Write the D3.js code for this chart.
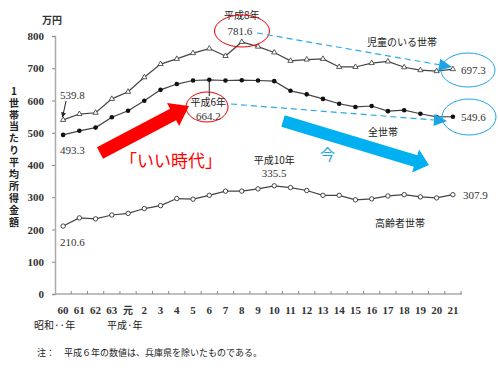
<!DOCTYPE html>
<html>
<head>
<meta charset="utf-8">
<script src="https://cdn.jsdelivr.net/npm/d3@7"></script>
<style>
  body { margin: 0; background: #fff; }
  svg { display: block; }
  .num { font-family: "Liberation Serif", "DejaVu Serif", serif; }
  .jp { font-family: "Noto Sans CJK JP", sans-serif; }
</style>
</head>
<body>
<svg id="chart" width="498" height="377"></svg>
<script>
var years = ["60","61","62","63","元","2","3","4","5","6","7","8","9","10","11","12","13","14","15","16","17","18","19","20","21"];
var children = [539.8,558,562,605,627,672,713,729,747,761,738,781.6,767,749,723,727,729,704,704,716,721,703,694,691,697.3];
var allHouse = [493.3,506,516,548,568,599,633,651,662,664.2,662,663,662,660,630,619,605,590,580,583,567,570,559,549,549.6];
var elderly = [210.6,236,233,245,250,265,274,296,294,306,319,319,326,335.5,330,321,306,306,292,295,304,308,301,298,307.9];
var yTicks = [0,100,200,300,400,500,600,700,800];

var svg = d3.select("#chart");
var x = d3.scaleBand().domain(years).range([55, 461]);
var y = d3.scaleLinear().domain([0, 800]).range([294, 36]);
var cx = function(i) { return x(years[i]) + x.bandwidth() / 2; };

// axes
var yAxis = d3.axisLeft(y).tickValues(yTicks).tickSize(3).tickPadding(8);
var gy = svg.append("g").attr("transform", "translate(55,0)").call(yAxis);
gy.select(".domain").attr("stroke", "#aaa").attr("stroke-width", 1.5);
gy.selectAll(".tick line").attr("stroke", "#888");
gy.selectAll("text").attr("class", "num").attr("font-size", 11).attr("font-weight", "bold").attr("fill", "#333");

svg.append("line").attr("x1", 55).attr("x2", 462).attr("y1", y(0)).attr("y2", y(0))
  .attr("stroke", "#aaa").attr("stroke-width", 1.5);
svg.append("g").selectAll("line").data(years).join("line")
  .attr("x1", function(d, i) { return x(years[i]) + x.bandwidth(); })
  .attr("x2", function(d, i) { return x(years[i]) + x.bandwidth(); })
  .attr("y1", y(0)).attr("y2", y(0) - 3)
  .attr("stroke", "#888");
svg.append("g").selectAll("text").data(years).join("text")
  .attr("class", function(d) { return d === "元" ? "jp" : "num"; })
  .attr("x", function(d, i) { return cx(i); })
  .attr("y", 314)
  .attr("text-anchor", "middle")
  .attr("font-size", function(d) { return d === "元" ? 10 : 11; })
  .attr("font-weight", "bold")
  .attr("fill", "#333")
  .text(function(d) { return d; });

svg.append("text").attr("class", "jp").attr("x", 34).attr("y", 329).attr("font-size", 10).attr("fill", "#222").text("昭和··年");
svg.append("text").attr("class", "jp").attr("x", 107).attr("y", 329).attr("font-size", 10).attr("fill", "#222").text("平成·年");
svg.append("text").attr("class", "jp").attr("x", 42).attr("y", 24).attr("font-size", 10).attr("font-weight", "bold").attr("fill", "#333").text("万円");
svg.append("text").attr("class", "jp").attr("x", 37).attr("y", 356).attr("font-size", 9).attr("fill", "#222")
  .text("注：　平成６年の数値は、兵庫県を除いたものである。");

// vertical y title
svg.append("text").attr("class", "jp")
  .attr("x", 14).attr("y", 86)
  .style("writing-mode", "vertical-rl").style("text-orientation", "upright")
  .attr("font-size", 10).attr("font-weight", "bold").attr("fill", "#222")
  .attr("letter-spacing", 1.9)
  .text("1世帯当たり平均所得金額");

// series
var line = d3.line().x(function(d, i) { return cx(i); }).y(function(d) { return y(d); });
[children, allHouse, elderly].forEach(function(s) {
  svg.append("path").attr("d", line(s)).attr("fill", "none").attr("stroke", "#444").attr("stroke-width", 1.2);
});
svg.append("g").selectAll("path").data(children).join("path")
  .attr("d", d3.symbol(d3.symbolTriangle, 12))
  .attr("transform", function(d, i) { return "translate(" + cx(i) + "," + y(d) + ")"; })
  .attr("fill", "#fff").attr("stroke", "#333").attr("stroke-width", 0.8);
svg.append("g").selectAll("circle").data(allHouse).join("circle")
  .attr("cx", function(d, i) { return cx(i); }).attr("cy", function(d) { return y(d); })
  .attr("r", 2.3).attr("fill", "#111");
svg.append("g").selectAll("circle").data(elderly).join("circle")
  .attr("cx", function(d, i) { return cx(i); }).attr("cy", function(d) { return y(d); })
  .attr("r", 2.2).attr("fill", "#fff").attr("stroke", "#333").attr("stroke-width", 0.9);

// labels
function numLabel(t, xx, yy, anchor) {
  svg.append("text").attr("class", "num").attr("x", xx).attr("y", yy).attr("font-size", 11)
    .attr("text-anchor", anchor || "start").attr("fill", "#333").text(t);
}
function jpLabel(t, xx, yy, anchor) {
  svg.append("text").attr("class", "jp").attr("x", xx).attr("y", yy).attr("font-size", 10)
    .attr("text-anchor", anchor || "start").attr("fill", "#222").text(t);
}
numLabel(children[0], 60, 99);
numLabel(allHouse[0], 60, 154);
numLabel(elderly[0], 60, 246);
numLabel(children[24], 461, 74);
numLabel(allHouse[24], 461, 121);
numLabel(elderly[24], 463, 199);
jpLabel("平成8年", cx(11), 19, "middle");
numLabel(children[11], cx(11) - 2, 35, "middle");
jpLabel("平成6年", cx(9) - 1, 106, "middle");
numLabel(allHouse[9], cx(9) - 1, 120, "middle");
jpLabel("平成10年", cx(13), 164, "middle");
numLabel(elderly[13], cx(13), 177, "middle");
jpLabel("児童のいる世帯", 402, 46, "middle");
jpLabel("全世帯", 383, 136, "middle");
jpLabel("高齢者世帯", 400, 227, "middle");

// small leaders
svg.append("defs").append("marker").attr("id", "blk").attr("viewBox", "0 0 10 10")
  .attr("refX", 9).attr("refY", 5).attr("markerWidth", 5).attr("markerHeight", 5).attr("orient", "auto")
  .append("path").attr("d", "M0,0L10,5L0,10z").attr("fill", "#222");
svg.append("line").attr("x1", 66).attr("y1", 101).attr("x2", cx(0) - 0.5).attr("y2", y(children[0]) - 3)
  .attr("stroke", "#222").attr("marker-end", "url(#blk)");
svg.append("line").attr("x1", cx(9)).attr("y1", y(allHouse[9])).attr("x2", cx(9)).attr("y2", 96).attr("stroke", "#222");

// red ellipses
svg.append("ellipse").attr("cx", 242).attr("cy", 31).attr("rx", 27.5).attr("ry", 16)
  .attr("fill", "none").attr("stroke", "#e00").attr("stroke-width", 1);
svg.append("ellipse").attr("cx", 207).attr("cy", 107).attr("rx", 21).attr("ry", 15)
  .attr("fill", "none").attr("stroke", "#e00").attr("stroke-width", 1);
// blue ellipses
svg.append("ellipse").attr("cx", 468).attr("cy", 70).attr("rx", 27).attr("ry", 17)
  .attr("fill", "none").attr("stroke", "#1ea7e6").attr("stroke-width", 1);
svg.append("ellipse").attr("cx", 469).attr("cy", 117).attr("rx", 27).attr("ry", 18)
  .attr("fill", "none").attr("stroke", "#1ea7e6").attr("stroke-width", 1);

// blue dashed trend arrows
function dashArrow(x1, y1, x2, y2) {
  var a = Math.atan2(y2 - y1, x2 - x1), L = 13, W = 6;
  var bx = x2 - L * Math.cos(a), by = y2 - L * Math.sin(a);
  svg.append("line").attr("x1", x1).attr("y1", y1).attr("x2", bx).attr("y2", by)
    .attr("stroke", "#2aa9e8").attr("stroke-width", 1.2).attr("stroke-dasharray", "6,4");
  svg.append("path").attr("fill", "#1aa5e6").attr("d",
    "M" + x2 + "," + y2 +
    "L" + (bx + W * Math.sin(a)) + "," + (by - W * Math.cos(a)) +
    "L" + (bx - W * Math.sin(a)) + "," + (by + W * Math.cos(a)) + "Z");
}
dashArrow(257, 33, 452, 67);
dashArrow(231, 104, 447, 121);

// fat block arrows
function blockArrow(x1, y1, x2, y2, shaft, head, headLen, color) {
  var a = Math.atan2(y2 - y1, x2 - x1), len = Math.hypot(x2 - x1, y2 - y1);
  var p = d3.path();
  p.moveTo(0, -shaft / 2); p.lineTo(len - headLen, -shaft / 2); p.lineTo(len - headLen, -head / 2);
  p.lineTo(len, 0); p.lineTo(len - headLen, head / 2); p.lineTo(len - headLen, shaft / 2);
  p.lineTo(0, shaft / 2); p.closePath();
  svg.append("path").attr("d", p.toString()).attr("fill", color)
    .attr("transform", "translate(" + x1 + "," + y1 + ") rotate(" + (a * 180 / Math.PI) + ")");
}
blockArrow(100, 153, 189, 106, 13, 26, 18, "#ff0000");
blockArrow(283, 121, 429, 165, 12, 24, 14, "#00b0f0");

svg.append("text").attr("class", "jp").attr("x", 120).attr("y", 167).attr("font-size", 17)
  .attr("fill", "#ff0000").text("「いい時代」");
svg.append("text").attr("class", "jp").attr("x", 320).attr("y", 160).attr("font-size", 15)
  .attr("fill", "#1ea7e6").text("今");
</script>
</body>
</html>
